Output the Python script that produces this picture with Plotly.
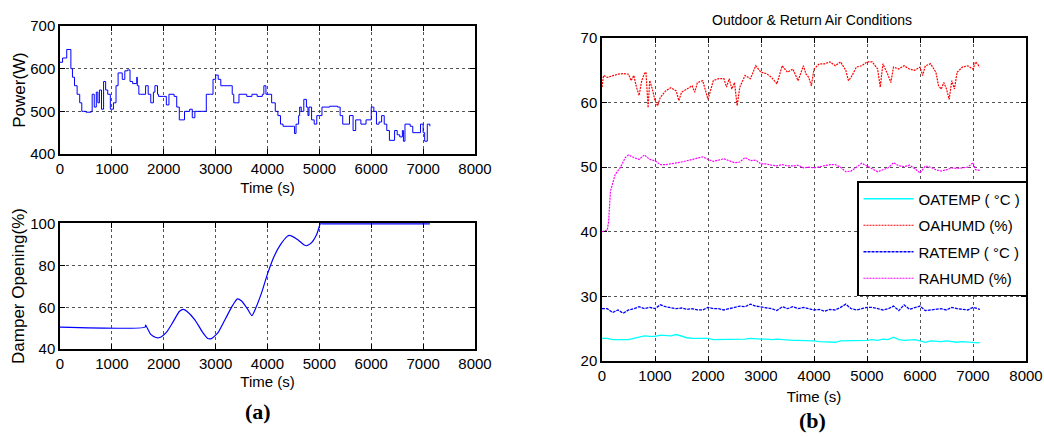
import plotly.graph_objects as go

# ---------------- data ----------------
power_t = [0, 50, 130, 210, 240, 280, 330, 380, 420, 450, 500, 600, 620, 660, 700, 730, 760, 800, 840, 880, 920, 970,
           1030, 1080, 1120, 1200, 1250, 1300, 1350, 1400, 1480, 1490, 1520, 1550, 1650, 1700, 1750, 1800, 1830, 1880,
           1900, 2000, 2050, 2100, 2200, 2250, 2300, 2350, 2400, 2450, 2500, 2550, 2600, 2800, 2820, 2900, 2950, 3000,
           3050, 3100, 3300, 3320, 3350, 3400, 3450, 3600, 3700, 3800, 3900, 3930, 3970, 4050, 4080, 4150, 4200, 4250,
           4300, 4500, 4520, 4550, 4600, 4620, 4650, 4700, 4750, 4780, 4800, 4850, 4900, 4950, 5000, 5050, 5200, 5350,
           5400, 5450, 5550, 5580, 5650, 5700, 5800, 5900, 6000, 6050, 6100, 6150, 6200, 6250, 6300, 6350, 6400, 6450,
           6500, 6550, 6600, 6620, 6650, 6750, 6800, 6900, 6950, 7000, 7030, 7080, 7130]
power_w = [615, 625, 645, 600, 580, 560, 540, 520, 500, 500, 498, 500, 540, 510, 545, 520, 550, 505, 570, 550, 540, 505,
           520, 560, 590, 575, 595, 597, 570, 565, 580, 560, 540, 540, 560, 540, 520, 545, 560, 540,
           535, 535, 515, 540, 535, 510, 480, 480, 500, 500, 505, 485, 500, 500, 540, 540, 575, 585,
           575, 560, 560, 540, 520, 520, 540, 535, 540, 535, 540, 560, 540, 540, 520, 500, 490, 470,
           465, 465, 448, 470, 490, 510, 500, 528, 510, 490, 510, 480, 470, 490, 490, 510, 512, 510,
           490, 470, 470, 490, 455, 480, 470, 480, 510, 500, 470, 475, 490, 470, 455, 432, 432, 455,
           445, 440, 455, 430, 470, 465, 450, 450, 470, 450, 430, 470, 465]

damper_t = [0, 1640, 1650, 1750, 1850, 1920, 2050, 2180, 2300, 2380, 2450, 2600, 2750, 2850, 2920, 3050, 3200, 3330,
            3420, 3500, 3620, 3700, 3780, 3900, 4000, 4120, 4250, 4380, 4420, 4550, 4700, 4750, 4850, 4950, 5020,
            5060, 6000, 7130]
damper_pct = [50.5, 50.5, 51.5, 47, 45.5, 45.5, 48, 53, 58, 59, 58, 54, 48, 45, 45, 48, 55, 61,
              64, 63, 59, 56, 60, 68, 76, 84, 90, 94, 94.5, 93, 90, 89.5, 91, 95, 100,
              100, 100, 100]

t100 = list(range(0, 7100, 100)) + [7100, 7130]

oatemp = [23.5, 23.5, 23.3, 23.3, 23.3, 23.3, 23.5, 23.7, 23.9, 23.8, 23.8, 24.0, 24.0, 23.9, 24.1, 23.8, 23.6, 23.5,
          23.5, 23.5, 23.5, 23.3, 23.3, 23.3, 23.3, 23.3, 23.3, 23.4, 23.5, 23.4, 23.4, 23.4, 23.3, 23.4, 23.3, 23.3,
          23.2, 23.2, 23.2, 23.1, 23.1, 23.0, 23.0, 23.0, 22.9, 23.1, 23.1, 23.1, 23.2, 23.2, 23.2, 23.3, 23.2, 23.4,
          23.3, 23.7, 23.3, 23.2, 23.2, 23.3, 23.1, 22.9, 23.1, 23.0, 23.0, 23.1, 23.0, 22.9, 23.0, 22.9, 22.9, 22.8,
          22.9]
ratemp = [28.1, 28.1, 27.5, 27.9, 27.4, 27.9, 28.1, 28.4, 28.1, 28.3, 28.1, 28.7, 28.4, 28.3, 28.1, 28.2, 28.0, 28.1,
          27.9, 27.9, 28.3, 28.1, 28.1, 27.9, 28.1, 28.3, 28.5, 28.4, 28.8, 28.5, 28.4, 28.3, 28.1, 27.8, 28.4, 28.1,
          28.4, 28.1, 28.3, 28.1, 27.9, 28.0, 27.7, 28.0, 27.9, 28.3, 28.8, 28.1, 27.9, 28.1, 28.3, 28.3, 28.1, 27.9,
          28.1, 28.5, 27.8, 28.7, 28.0, 28.3, 28.5, 27.8, 27.9, 28.0, 28.1, 27.9, 28.3, 28.1, 28.0, 27.9, 28.3, 28.1,
          28.0]

oahumd_t = [0, 30, 100, 200, 300, 400, 500, 550, 600, 650, 700, 750, 800, 830, 870, 900, 950, 1000, 1050, 1100, 1200,
            1300, 1400, 1450, 1500, 1600, 1700, 1750, 1800, 1900, 1950, 2000, 2100, 2200, 2300, 2350, 2400, 2450, 2500,
            2550, 2600, 2700, 2800, 2900, 3000, 3100, 3200, 3300, 3400, 3500, 3600, 3700, 3800, 3850, 3900, 3950, 4000,
            4100, 4200, 4300, 4400, 4500, 4600, 4650, 4700, 4800, 4900, 5000, 5100, 5200, 5250, 5300, 5400, 5450, 5500,
            5600, 5700, 5800, 5900, 6000, 6050, 6100, 6200, 6300, 6350, 6400, 6450, 6500, 6550, 6600, 6650, 6700, 6800,
            6900, 7000, 7050, 7130]
oahumd = [62.4, 64.2, 63.9, 64.2, 64.4, 64.5, 64.4, 63.4, 64.2, 62.4, 61.1, 63.4, 64.5, 64.7, 59.2, 63.4, 62.1, 60.3,
          59.5, 60.8, 61.8, 62.3, 61.8, 60.3, 61.6, 62.1, 62.6, 61.6, 63.1, 63.4, 61.8, 60.5, 63.4, 63.7, 63.7, 62.4,
          63.7, 62.1, 63.1, 59.5, 62.4, 64.2, 63.7, 65.7, 64.7, 64.5, 63.9, 62.9, 65.7, 64.7, 65.2, 63.4, 65.7, 64.4,
          63.9, 62.6, 65.2, 66.0, 66.0, 66.3, 65.7, 66.3, 65.0, 63.4, 63.9, 65.5, 65.7, 66.3, 66.3, 65.2, 62.4, 66.0,
          64.2, 63.1, 65.5, 65.2, 65.7, 65.2, 65.0, 65.5, 64.2, 65.7, 66.0, 64.7, 62.6, 62.1, 63.1, 62.1, 60.5, 63.4,
          62.1, 64.7, 65.5, 65.7, 65.2, 66.3, 65.5]

rahumd_t = [0, 100, 125, 160, 250, 350, 440, 500, 600, 700, 800, 900, 1000, 1100, 1200, 1300, 1400, 1500, 1600, 1700,
            1800, 1900, 2000, 2100, 2200, 2300, 2400, 2500, 2600, 2700, 2800, 2900, 3000, 3100, 3200, 3300, 3400, 3500,
            3600, 3700, 3800, 3900, 4000, 4100, 4200, 4300, 4400, 4500, 4600, 4700, 4800, 4900, 5000, 5100, 5200, 5300,
            5400, 5500, 5600, 5700, 5800, 5900, 6000, 6100, 6200, 6300, 6400, 6500, 6600, 6700, 6800, 6900, 7000, 7050,
            7130]
rahumd = [40.0, 40.3, 41.6, 46.3, 48.9, 50.0, 51.5, 51.9, 51.5, 51.2, 51.9, 51.2, 51.0, 50.4, 50.4, 50.5, 50.7, 50.8,
          51.0, 51.2, 51.5, 51.6, 51.2, 50.9, 51.1, 51.3, 51.0, 50.7, 50.8, 51.5, 51.0, 51.1, 50.5, 50.5, 50.3, 50.2,
          50.4, 50.2, 50.2, 50.3, 49.9, 50.0, 49.9, 50.1, 50.2, 50.4, 50.4, 50.0, 49.3, 49.4, 50.0, 50.6, 50.2, 49.8,
          49.3, 49.6, 49.9, 50.7, 50.2, 50.1, 50.3, 49.8, 49.1, 50.2, 50.0, 49.6, 49.4, 49.6, 49.9, 49.8, 49.9, 50.0,
          50.7, 49.6, 49.5]

x_ticks = [0, 1000, 2000, 3000, 4000, 5000, 6000, 7000, 8000]

# ---------------- figure ----------------
W, H = 1044, 437
FONT = "Liberation Sans, Arial, Helvetica, sans-serif"


def px_x(a, b):
    return [a / W, b / W]


def px_y(top, bottom):
    return [(H - bottom) / H, (H - top) / H]


fig = go.Figure()

fig.add_trace(go.Scatter(x=power_t, y=power_w, mode="lines", line=dict(color="#0000FF", width=1, shape="hv"),
                         showlegend=False, xaxis="x", yaxis="y"))
fig.add_trace(go.Scatter(x=damper_t, y=damper_pct, mode="lines",
                         line=dict(color="#0000FF", width=1.2, shape="spline", smoothing=0.6),
                         showlegend=False, xaxis="x2", yaxis="y2"))

fig.add_trace(go.Scatter(x=t100, y=oatemp, mode="lines", name="OATEMP ( °C )", legendgroup="a",
                         line=dict(color="#00FFFF", width=1.3), xaxis="x3", yaxis="y3"))
fig.add_trace(go.Scatter(x=oahumd_t, y=oahumd, mode="lines", name="OAHUMD (%)", legendgroup="b",
                         line=dict(color="#FF0000", width=1.2, dash="2px,1px"), xaxis="x3", yaxis="y3"))
fig.add_trace(go.Scatter(x=t100, y=ratemp, mode="lines", name="RATEMP ( °C )", legendgroup="c",
                         line=dict(color="#0000FF", width=1.3, dash="3px,1px"), xaxis="x3", yaxis="y3"))
fig.add_trace(go.Scatter(x=rahumd_t, y=rahumd, mode="lines", name="RAHUMD (%)", legendgroup="d",
                         line=dict(color="#FF00FF", width=1.2, dash="2px,1px"), xaxis="x3", yaxis="y3"))

axis_common = dict(showline=True, linecolor="black", linewidth=1.5, mirror="ticks", ticks="inside", ticklen=5,
                   tickcolor="black", showgrid=True, gridcolor="#555555", griddash="dot", gridwidth=1,
                   zeroline=False, layer="below traces", automargin=False,
                   tickfont=dict(family=FONT, size=15, color="black"))
x_title_font = dict(family=FONT, size=15, color="black")
y_title_font = dict(family=FONT, size=17, color="black")

fig.update_layout(
    template="none",
    width=W, height=H, margin=dict(l=0, r=0, t=0, b=0, pad=0), autosize=False,
    paper_bgcolor="white", plot_bgcolor="white",
    font=dict(family=FONT, color="black"),
    xaxis=dict(domain=px_x(60, 475), range=[0, 8000], tickvals=x_ticks, anchor="y",
               title=dict(text="Time (s)", font=x_title_font, standoff=7), **axis_common),
    yaxis=dict(domain=px_y(26, 154), range=[400, 700], tickvals=[400, 500, 600, 700], anchor="x",
               title=dict(text="Power(W)", font=y_title_font, standoff=0), **axis_common),
    xaxis2=dict(domain=px_x(60, 475), range=[0, 8000], tickvals=x_ticks, anchor="y2",
                title=dict(text="Time (s)", font=x_title_font, standoff=6), **axis_common),
    yaxis2=dict(domain=px_y(223, 349), range=[40, 100.4], tickvals=[40, 60, 80, 100], anchor="x2",
                title=dict(text="Damper Opening(%)", font=y_title_font, standoff=1), **axis_common),
    xaxis3=dict(domain=px_x(602, 1026), range=[0, 8000], tickvals=x_ticks, anchor="y3",
                title=dict(text="Time (s)", font=x_title_font, standoff=9), **axis_common),
    yaxis3=dict(domain=px_y(38, 361), range=[20, 70], tickvals=[20, 30, 40, 50, 60, 70], anchor="x3",
                **axis_common),
    legend=dict(x=857 / W, y=(H - 181) / H, xanchor="left", yanchor="top", bgcolor="white",
                bordercolor="black", borderwidth=1.5, font=dict(family=FONT, size=15, color="black"),
                tracegroupgap=4, itemwidth=50),
    annotations=[
        dict(text="Outdoor &amp; Return Air Conditions", x=812 / W, y=(H - 20) / H, xref="paper", yref="paper",
             showarrow=False, font=dict(family=FONT, size=14, color="black"), xanchor="center", yanchor="middle"),
        dict(text="<b>(a)</b>", x=258 / W, y=(H - 411) / H, xref="paper", yref="paper", showarrow=False,
             font=dict(family="Liberation Serif, Times New Roman, serif", size=22, color="black"),
             xanchor="center", yanchor="middle"),
        dict(text="<b>(b)</b>", x=812 / W, y=(H - 420) / H, xref="paper", yref="paper", showarrow=False,
             font=dict(family="Liberation Serif, Times New Roman, serif", size=22, color="black"),
             xanchor="center", yanchor="middle"),
    ],
)

fig.write_html("out.html", config={"displayModeBar": False},
               post_script="document.body.style.margin='0';document.body.style.overflow='hidden';")
